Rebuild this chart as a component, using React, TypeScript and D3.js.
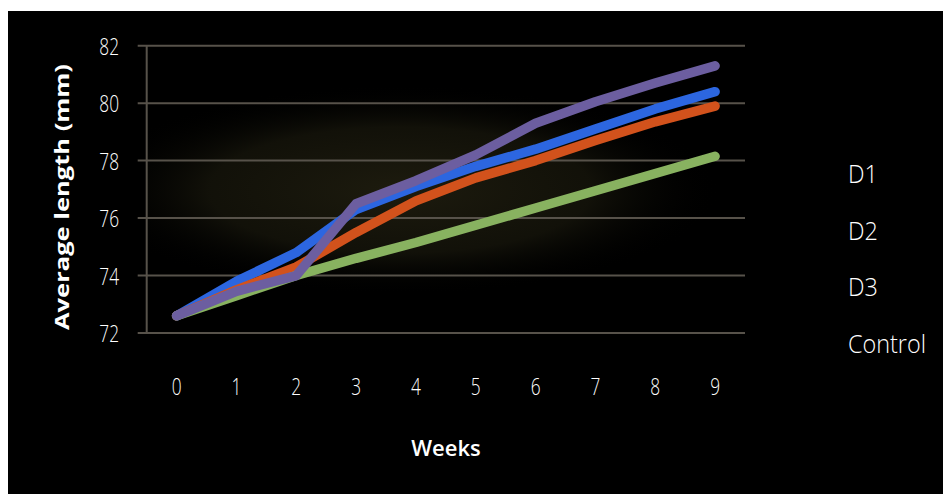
import React from "react";
import * as d3 from "d3";

const weeks = ["0", "1", "2", "3", "4", "5", "6", "7", "8", "9"];
const yTicks = [72, 74, 76, 78, 80, 82];
const seriesNames = ["D1", "D2", "D3", "Control"];
const d1 = [72.6, 73.8, 74.8, 76.3, 77.1, 77.8, 78.4, 79.1, 79.8, 80.4];
const d2 = [72.6, 73.5, 74.3, 75.5, 76.6, 77.4, 78.0, 78.7, 79.35, 79.9];
const d3s = [72.6, 73.3, 74.0, 74.6, 75.15, 75.75, 76.35, 76.95, 77.55, 78.15];
const control = [72.6, 73.45, 74.0, 76.5, 77.3, 78.2, 79.3, 80.05, 80.7, 81.3];
const seriesValues = [d1, d2, d3s, control];
const seriesColors = ["#2c66e0", "#d2521c", "#88b260", "#6c5ea0"];

const W = 943;
const H = 499;
const plot = { left: 146.7, right: 745, top: 45.7, bottom: 333 };
const thin = "'Open Sans', 'DejaVu Sans', sans-serif";

export default function App() {
  const x = d3.scaleBand<string>().domain(weeks).range([plot.left, plot.right]);
  const cx = (w: string) => (x(w) ?? 0) + x.bandwidth() / 2;
  const y = d3.scaleLinear().domain([72, 82]).range([plot.bottom, plot.top]);

  const line = d3
    .line<number>()
    .x((_, i) => cx(weeks[i]))
    .y((v) => y(v));

  return (
    <svg
      width={W}
      height={H}
      style={{ position: "absolute", left: 0, top: 0 }}
      xmlns="http://www.w3.org/2000/svg"
    >
      <defs>
        <radialGradient id="haze" cx="0.5" cy="0.5" r="0.5">
          <stop offset="0%" stopColor="#1d1b0e" stopOpacity={1} />
          <stop offset="60%" stopColor="#16150b" stopOpacity={0.8} />
          <stop offset="100%" stopColor="#000000" stopOpacity={0} />
        </radialGradient>
        <clipPath id="plotClip">
          <rect x={plot.left} y={plot.top} width={plot.right - plot.left} height={plot.bottom - plot.top} />
        </clipPath>
      </defs>
      <rect x={0} y={0} width={W} height={H} fill="#ffffff" />
      <rect x={8} y={11} width={W - 8} height={483} fill="#000000" />

      {/* soft tint behind the plot */}
      <g clipPath="url(#plotClip)">
        <ellipse cx={400} cy={190} rx={320} ry={105} fill="url(#haze)" />
      </g>

      {/* gridlines */}
      {yTicks.map((t) => (
        <line
          key={t}
          x1={plot.left - 9}
          x2={plot.right}
          y1={y(t)}
          y2={y(t)}
          stroke="#57524a"
          strokeWidth={2}
        />
      ))}
      <line x1={plot.left} x2={plot.left} y1={plot.top} y2={plot.bottom} stroke="#57524a" strokeWidth={2} />

      {/* y tick labels */}
      {yTicks.map((t) => (
        <text
          key={t}
          transform={`translate(119,${y(t)}) scale(0.72,1)`}
          textAnchor="end"
          dominantBaseline="central"
          fill="#ffffff"
          fontFamily={thin}
          fontWeight={300}
          fontSize={24}
        >
          {t}
        </text>
      ))}

      {/* x tick labels */}
      {weeks.map((w) => (
        <text
          key={w}
          transform={`translate(${cx(w)},386) scale(0.72,1)`}
          textAnchor="middle"
          dominantBaseline="central"
          fill="#ffffff"
          fontFamily={thin}
          fontWeight={300}
          fontSize={24}
        >
          {w}
        </text>
      ))}

      {/* series */}
      {seriesValues.map((vals, i) => (
        <path
          key={seriesNames[i]}
          d={line(vals) ?? ""}
          fill="none"
          stroke={seriesColors[i]}
          strokeWidth={9.5}
          strokeLinecap="round"
          strokeLinejoin="round"
        />
      ))}

      {/* axis titles */}
      <text
        transform="translate(446,447)"
        textAnchor="middle"
        dominantBaseline="central"
        fill="#ffffff"
        fontFamily={thin}
        fontWeight={600}
        fontSize={22}
      >
        Weeks
      </text>
      <text
        transform="translate(61,197) scale(0.8,1) rotate(-90)"
        textAnchor="middle"
        dominantBaseline="central"
        fill="#ffffff"
        fontFamily={thin}
        fontWeight={700}
        fontSize={25.5}
      >
        Average length (mm)
      </text>

      {/* legend */}
      {seriesNames.map((n, i) => (
        <text
          key={n}
          transform={`translate(848,${173 + i * 56.7}) scale(0.9,1)`}
          dominantBaseline="central"
          fill="#ffffff"
          fontFamily={thin}
          fontWeight={300}
          fontSize={26}
        >
          {n}
        </text>
      ))}
    </svg>
  );
}
